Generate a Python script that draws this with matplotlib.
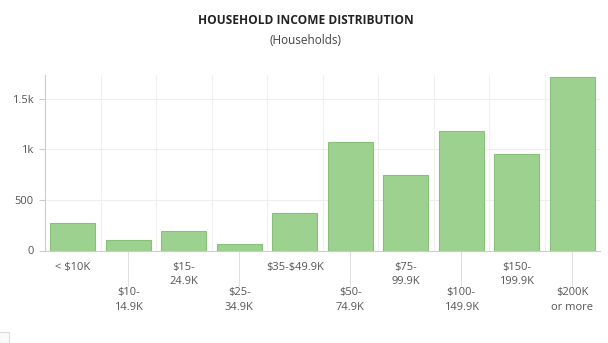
import matplotlib.pyplot as plt
from matplotlib.patches import Rectangle

# household counts per income bracket
brackets = ["< \\$10K", "\\$10-\n14.9K", "\\$15-\n24.9K", "\\$25-\n34.9K", "\\$35-\\$49.9K",
            "\\$50-\n74.9K", "\\$75-\n99.9K", "\\$100-\n149.9K", "\\$150-\n199.9K", "\\$200K\nor more"]
households = [275, 101, 193, 61, 374, 1075, 746, 1181, 957, 1714]

y_ticks = [0, 500, 1000, 1500]
y_tick_labels = ["0", "500", "1k", "1.5k"]

plt.rcParams['font.family'] = ['Open Sans', 'DejaVu Sans']

fig = plt.figure(figsize=(6.08, 3.43), dpi=100)
ax = fig.add_axes([45 / 608, 1 - 250.5 / 343, 555 / 608, 175.5 / 343])

x = list(range(len(brackets)))
ax.bar(x, households, width=0.81, color="#9dd18f", edgecolor="#86c07a",
       linewidth=0.8, zorder=3)

ax.set_xlim(-0.5, len(brackets) - 0.5)
ax.set_ylim(0, 1735)

# light grid: horizontal at y ticks, vertical between categories
for yv in y_ticks[1:]:
    ax.axhline(yv, color="#eeeeee", linewidth=0.8, zorder=0)
for xv in x[:-1]:
    ax.axvline(xv + 0.5, color="#f0f0f0", linewidth=0.8, zorder=0)

for side in ["top", "right"]:
    ax.spines[side].set_visible(False)
ax.spines["left"].set_color("#cccccc")
ax.spines["bottom"].set_color("#cccccc")
ax.spines["left"].set_linewidth(0.8)
ax.spines["bottom"].set_linewidth(0.8)

ax.set_yticks(y_ticks)
ax.set_yticklabels(y_tick_labels, fontsize=8, color="#555555")
ax.tick_params(axis="y", length=4, width=0.8, color="#cccccc", pad=4)

# labels staggered over two rows: even brackets on top, odd ones below on long ticks
ax.set_xticks(x[0::2], brackets[0::2], fontsize=8, color="#555555", linespacing=1.45)
ax.set_xticks(x[1::2], brackets[1::2], minor=True, fontsize=8, color="#555555",
              linespacing=1.45)
ax.tick_params(axis="x", which="major", length=0, pad=8)
ax.tick_params(axis="x", which="minor", length=25, width=0.6, color="#d8d8d8", pad=1.5)

fig.text(306 / 608, 1 - 20 / 343, "HOUSEHOLD INCOME DISTRIBUTION", ha="center",
         va="center", fontsize=8.6, fontweight="bold", color="#222222")
fig.text(306 / 608, 1 - 40 / 343, "(Households)", ha="center", va="center",
         fontsize=8.5, color="#444444")

fig.patches.append(Rectangle((-1 / 608, 0), 10 / 608, 11 / 343, transform=fig.transFigure,
                             facecolor="#fafafa", edgecolor="#dddddd", linewidth=0.8))

fig.savefig("out.png", dpi=100)
